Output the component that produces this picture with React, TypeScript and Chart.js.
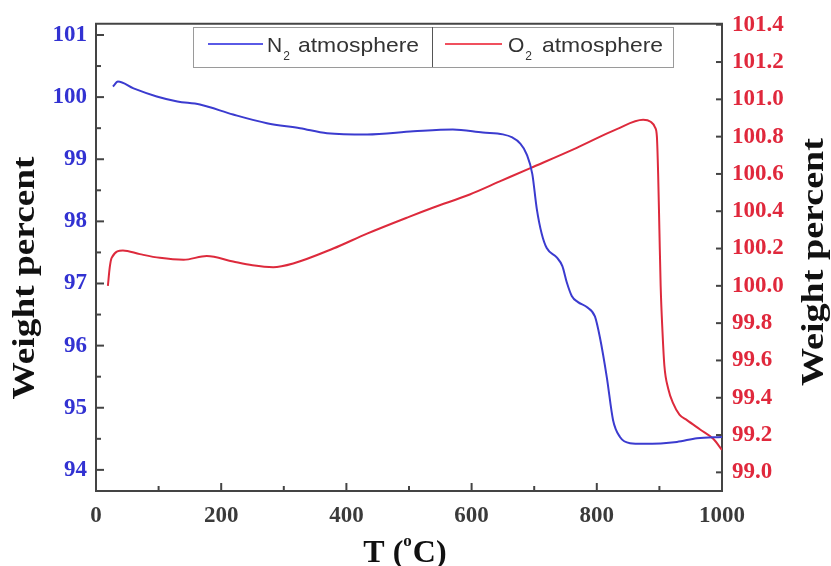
import React, { useEffect, useRef } from "react";
import { Chart, registerables } from "chart.js";

Chart.register(...registerables);

// ---------- data ----------
const n2Temp = [27, 35, 60, 97, 130, 166, 219, 273, 326, 369, 433, 507, 570, 618, 650, 665, 677, 688, 697, 704, 712, 720, 736, 745, 752, 760, 770, 784, 797, 805, 816, 826, 837, 853, 874, 928, 960, 1000];
const n2Weight = [100.17, 100.25, 100.14, 100.01, 99.93, 99.88, 99.72, 99.58, 99.5, 99.42, 99.4, 99.45, 99.48, 99.43, 99.4, 99.35, 99.26, 99.08, 98.76, 98.21, 97.8, 97.57, 97.42, 97.28, 97.02, 96.8, 96.7, 96.62, 96.47, 96.13, 95.49, 94.8, 94.53, 94.43, 94.42, 94.45, 94.51, 94.53];

const o2Temp = [19, 22, 25, 43, 70, 102, 140, 177, 219, 250, 283, 315, 379, 433, 500, 539, 597, 645, 693, 768, 832, 874, 886, 893, 896, 898, 900, 902, 905, 908, 914, 922, 932, 944, 965, 986, 1000];
const o2Weight = [100.0, 100.1, 100.15, 100.19, 100.17, 100.15, 100.14, 100.16, 100.13, 100.11, 100.1, 100.12, 100.2, 100.28, 100.37, 100.42, 100.49, 100.56, 100.63, 100.74, 100.84, 100.89, 100.88, 100.85, 100.8, 100.6, 100.3, 100.0, 99.75, 99.57, 99.45, 99.37, 99.31, 99.28, 99.23, 99.18, 99.12];

const xTickLabels = [0, 200, 400, 600, 800, 1000];
const leftTickLabels = [94, 95, 96, 97, 98, 99, 100, 101];
const rightTickLabels = [99.0, 99.2, 99.4, 99.6, 99.8, 100.0, 100.2, 100.4, 100.6, 100.8, 101.0, 101.2, 101.4];
const xMinorTicks = [100, 300, 500, 700, 900];
const leftMinorTicks = [94.5, 95.5, 96.5, 97.5, 98.5, 99.5, 100.5];

const seriesNames = ["N", "O"];

const BLUE = "#3b3bcf";
const RED = "#dd2a3c";
const BLUE_LABEL = "#3232d2";
const RED_LABEL = "#e0283c";
const AXIS = "#444444";
const SERIF = "'Liberation Serif', 'Times New Roman', serif";
const SANS = "'Liberation Sans', Arial, sans-serif";

const framePlugin = {
  id: "frameTicks",
  afterDraw(chart: any) {
    const { ctx, chartArea, scales } = chart;
    const { left, right, top, bottom } = chartArea;
    const x = scales.x, y = scales.y, y1 = scales.y1;
    ctx.save();
    ctx.strokeStyle = AXIS;
    ctx.lineWidth = 2;
    const seg = (a: number, b: number, c: number, d: number) => {
      ctx.beginPath();
      ctx.moveTo(a, b);
      ctx.lineTo(c, d);
      ctx.stroke();
    };
    seg(left - 1, top, right + 1, top);
    xTickLabels.forEach((v) => { const p = x.getPixelForValue(v); seg(p, bottom, p, bottom - 8); });
    xMinorTicks.forEach((v) => { const p = x.getPixelForValue(v); seg(p, bottom, p, bottom - 5); });
    leftTickLabels.forEach((v) => { const p = y.getPixelForValue(v); seg(left, p, left + 8, p); });
    leftMinorTicks.forEach((v) => { const p = y.getPixelForValue(v); seg(left, p, left + 5, p); });
    rightTickLabels.forEach((v) => { const p = y1.getPixelForValue(v); seg(right, p, right - 6, p); });
    ctx.restore();
  },
};

const titlePlugin = {
  id: "titles",
  afterDraw(chart: any) {
    const { ctx } = chart;
    ctx.save();
    ctx.fillStyle = "#111";
    ctx.font = `bold 31px ${SERIF}`;
    // left title: baseline at x=34, centred at y=278, reading bottom to top
    ctx.save();
    ctx.translate(34, 278);
    ctx.rotate(-Math.PI / 2);
    {
      const t = "Weight percent";
      const w = ctx.measureText(t).width;
      ctx.scale(243 / w, 1);
      ctx.textAlign = "center";
      ctx.fillText(t, 0, 0);
    }
    ctx.restore();
    // right title
    ctx.save();
    ctx.translate(823, 262);
    ctx.rotate(-Math.PI / 2);
    {
      const t = "Weight percent";
      const w = ctx.measureText(t).width;
      ctx.scale(248 / w, 1);
      ctx.textAlign = "center";
      ctx.fillText(t, 0, 0);
    }
    ctx.restore();
    // bottom title "T (°C)"
    ctx.font = `bold 32px ${SERIF}`;
    const a = "T (", c = "C)";
    const wa = ctx.measureText(a).width;
    const wc = ctx.measureText(c).width;
    ctx.font = `bold 17px ${SERIF}`;
    const wo = ctx.measureText("o").width;
    const total = wa + wo + 1 + wc;
    let sx = 405 - total / 2;
    const base = 562;
    ctx.textAlign = "left";
    ctx.font = `bold 32px ${SERIF}`;
    ctx.fillText(a, sx, base);
    sx += wa;
    ctx.font = `bold 17px ${SERIF}`;
    ctx.fillText("o", sx, base - 16);
    sx += wo + 1;
    ctx.font = `bold 32px ${SERIF}`;
    ctx.fillText(c, sx, base);
    ctx.restore();
  },
};

const legendPlugin = {
  id: "boxLegend",
  afterDraw(chart: any) {
    const { ctx } = chart;
    ctx.save();
    const bx = 193, by = 27, bw = 480, bh = 40, div = 432;
    ctx.fillStyle = "#ffffff";
    ctx.fillRect(bx, by, bw, bh);
    ctx.strokeStyle = "#9a9a9a";
    ctx.lineWidth = 1;
    ctx.strokeRect(bx + 0.5, by + 0.5, bw, bh);
    ctx.strokeStyle = "#555";
    ctx.beginPath();
    ctx.moveTo(div + 0.5, by);
    ctx.lineTo(div + 0.5, by + bh);
    ctx.stroke();
    const items = [
      { color: "#5a5ae6", x0: 208, x1: 263, letter: seriesNames[0], tx: 267, ax: 298 },
      { color: "#f0505e", x0: 445, x1: 502, letter: seriesNames[1], tx: 508, ax: 542 },
    ];
    items.forEach((it) => {
      ctx.strokeStyle = it.color;
      ctx.lineWidth = 2;
      ctx.beginPath();
      ctx.moveTo(it.x0, 44);
      ctx.lineTo(it.x1, 44);
      ctx.stroke();
      ctx.fillStyle = "#333";
      ctx.textAlign = "left";
      ctx.textBaseline = "alphabetic";
      ctx.font = `21px ${SANS}`;
      ctx.fillText(it.letter, it.tx, 52);
      const lw = ctx.measureText(it.letter).width;
      ctx.font = `12px ${SANS}`;
      ctx.fillText("2", it.tx + lw + 1, 60);
      ctx.font = `21px ${SANS}`;
      ctx.save();
      ctx.translate(it.ax, 52);
      const w = ctx.measureText("atmosphere").width;
      ctx.scale(121 / w, 1);
      ctx.fillText("atmosphere", 0, 0);
      ctx.restore();
    });
    ctx.restore();
  },
};

export default function App() {
  const ref = useRef<HTMLCanvasElement | null>(null);
  useEffect(() => {
    if (!ref.current) return;
    const tickFont = { family: SERIF, size: 23, weight: "bold" as const };
    const chart = new Chart(ref.current, {
      type: "line",
      data: {
        datasets: [
          {
            label: "N2 atmosphere",
            data: n2Temp.map((t, i) => ({ x: t, y: n2Weight[i] })),
            borderColor: BLUE,
            borderWidth: 2,
            yAxisID: "y",
            pointRadius: 0,
            cubicInterpolationMode: "monotone",
          },
          {
            label: "O2 atmosphere",
            data: o2Temp.map((t, i) => ({ x: t, y: o2Weight[i] })),
            borderColor: RED,
            borderWidth: 2,
            yAxisID: "y1",
            pointRadius: 0,
            cubicInterpolationMode: "monotone",
          },
        ],
      },
      options: {
        animation: false,
        responsive: true,
        maintainAspectRatio: false,
        layout: { padding: { top: 22, left: 0, right: 0, bottom: 0 } },
        plugins: { legend: { display: false }, tooltip: { enabled: false } },
        scales: {
          x: {
            type: "linear",
            min: 0,
            max: 1000,
            afterBuildTicks: (s: any) => { s.ticks = xTickLabels.map((v) => ({ value: v })); },
            afterFit: (s: any) => { s.height = 75; },
            grid: { display: false, drawTicks: false },
            border: { display: true, color: AXIS, width: 2 },
            ticks: { font: tickFont, color: "#3a3a3a", padding: 11, maxRotation: 0, autoSkip: false, callback: (v: any) => String(v) },
          },
          y: {
            position: "left",
            min: 93.66,
            max: 101.18,
            afterBuildTicks: (s: any) => { s.ticks = leftTickLabels.map((v) => ({ value: v })); },
            afterFit: (s: any) => { s.width = 96; },
            grid: { display: false, drawTicks: false },
            border: { display: true, color: AXIS, width: 2 },
            ticks: { font: tickFont, color: BLUE_LABEL, padding: 9, autoSkip: false, callback: (v: any) => String(v) },
          },
          y1: {
            position: "right",
            min: 98.9,
            max: 101.405,
            afterBuildTicks: (s: any) => { s.ticks = rightTickLabels.map((v) => ({ value: v })); },
            afterFit: (s: any) => { s.width = 109; },
            grid: { display: false, drawTicks: false },
            border: { display: true, color: AXIS, width: 2 },
            ticks: { font: tickFont, color: RED_LABEL, padding: 10, autoSkip: false, callback: (v: any) => Number(v).toFixed(1) },
          },
        },
      },
      plugins: [framePlugin, legendPlugin, titlePlugin],
    });
    return () => chart.destroy();
  }, []);
  return (
    <div style={{ position: "absolute", left: 0, top: 0, width: 831, height: 566, background: "#fff" }}>
      <canvas ref={ref} />
    </div>
  );
}
